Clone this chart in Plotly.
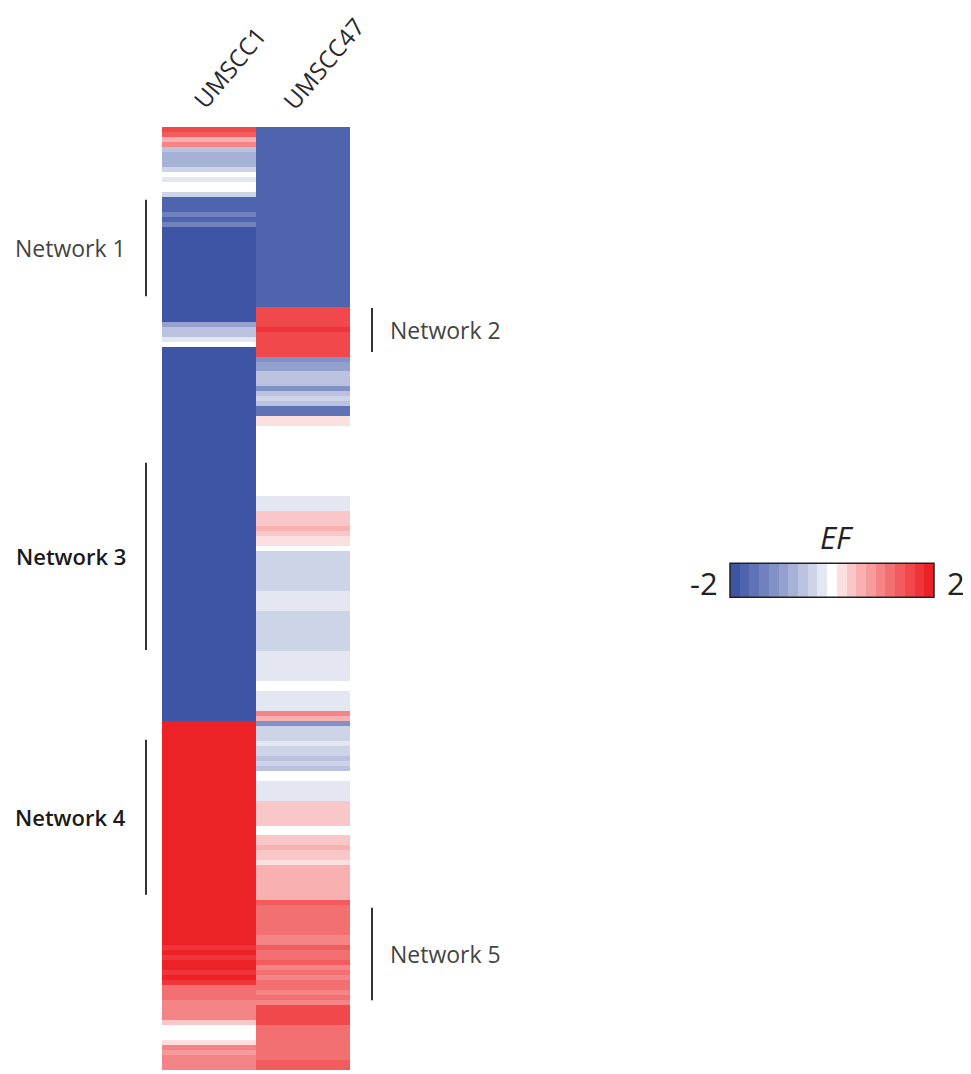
import plotly.graph_objects as go

# ---------------- data ----------------
samples = ["UMSCC1", "UMSCC47"]

umscc1 = [
    1.5, 1.3, 0.5, 0.9, -0.6, -0.8, -0.85, -0.8, -0.4, 0.0,
    -0.2, 0.05, 0.0, -0.3, -1.8, -1.8, -1.8, -1.4, -1.7, -1.4,
    -1.9, -1.85, -1.9, -1.9, -1.85, -1.9, -1.9, -1.9, -1.85, -1.9,
    -1.9, -1.9, -1.85, -1.9, -1.9, -1.9, -1.9, -1.85, -1.9,
    -0.9, -0.6, -0.5, -0.1, -0.05,
    -1.9, -1.9, -1.9, -1.9, -1.9, -1.9, -1.9, -1.9, -1.9, -1.9,
    -1.9, -1.9, -1.9, -1.9, -1.9, -1.9, -1.9, -1.9, -1.9, -1.9,
    -1.9, -1.9, -1.9, -1.9, -1.9, -1.9, -1.9, -1.9, -1.9, -1.9,
    -1.9, -1.9, -1.9, -1.9, -1.9, -1.9, -1.9, -1.9, -1.9, -1.9,
    -1.9, -1.9, -1.9, -1.9, -1.9, -1.9, -1.9, -1.9, -1.9, -1.9,
    -1.9, -1.9, -1.9, -1.9, -1.9, -1.9, -1.9, -1.9, -1.9, -1.9,
    -1.9, -1.9, -1.9, -1.9, -1.9, -1.9, -1.9, -1.9, -1.9, -1.9,
    -1.9, -1.9, -1.9, -1.9, -1.9,
    1.9, 1.9, 1.9, 1.9, 1.9, 1.9, 1.9, 1.9, 1.9, 1.9,
    1.9, 1.9, 1.9, 1.9, 1.9, 1.9, 1.9, 1.9, 1.9, 1.9,
    1.9, 1.9, 1.9, 1.9, 1.9, 1.9, 1.9, 1.9, 1.9, 1.9,
    1.9, 1.9, 1.9, 1.9, 1.9, 1.9, 1.9, 1.9, 1.9, 1.9,
    1.9, 1.9, 1.9, 1.9, 1.9, 1.75, 1.9, 1.75, 1.9, 1.9,
    1.75, 1.9, 1.75,
    1.2, 1.2, 1.1, 1.0, 1.0, 1.0, 0.9, 0.4,
    0.05, 0.0, 0.0, 0.1, 0.9, 0.85, 0.9, 1.0, 0.95,
]

umscc47 = [
    -1.7, -1.7, -1.65, -1.7, -1.7, -1.7, -1.65, -1.7, -1.7, -1.7,
    -1.7, -1.65, -1.7, -1.7, -1.7, -1.7, -1.65, -1.7, -1.7, -1.7,
    -1.7, -1.7, -1.65, -1.7, -1.7, -1.7, -1.7, -1.65, -1.7, -1.7,
    -1.7, -1.7, -1.7, -1.65, -1.7, -1.7,
    1.5, 1.5, 1.5, 1.6, 1.7, 1.6, 1.5, 1.5, 1.5, 1.55,
    -1.2, -0.9, -0.9, -0.6, -0.55, -0.6, -1.2, -0.5, -0.45, -0.5,
    -1.5, -1.5, 0.1, 0.12, 0.05,
    0.03, 0.02, 0.02, 0.0, 0.02, 0.03, 0.02, 0.0, 0.02, 0.02, 0.03,
    0.0, 0.0, -0.15, -0.15, -0.15,
    0.3, 0.3, 0.35, 0.5, 0.45, 0.25, 0.25, 0.0,
    -0.35, -0.35, -0.4, -0.35, -0.35, -0.4, -0.35, -0.35,
    -0.25, -0.25, -0.15, -0.15,
    -0.4, -0.45, -0.4, -0.4, -0.45, -0.4, -0.4, -0.45,
    -0.1, -0.1, -0.15, -0.1, -0.1, -0.15,
    0.0, 0.0, -0.2, -0.2, -0.25, -0.2,
    1.0, 0.6, -1.1, -0.4, -0.4, -0.35, -0.2,
    -0.45, -0.45, -0.5, -0.45, -0.6,
    0.0, 0.0, -0.15, -0.15, -0.25, -0.25,
    0.3, 0.3, 0.3, 0.3, 0.35, 0.0, 0.0,
    0.45, 0.45, 0.5, 0.45, 0.45, 0.15,
    0.55, 0.55, 0.6, 0.55, 0.55, 0.6, 0.55,
    1.4, 1.1, 1.1, 1.1, 1.15, 1.1, 1.1, 1.0, 1.0,
    1.4, 1.1, 1.1, 1.4,
    1.0, 1.1, 1.0, 1.1, 1.05, 1.0, 1.1, 1.0,
    1.5, 1.5, 1.45, 1.5,
    1.1, 1.1, 1.15, 1.1, 1.1, 1.15, 1.1, 1.3, 1.3,
]

networks = ["Network 1", "Network 2", "Network 3", "Network 4", "Network 5"]
network_start = [14.1, 35.8, 66.8, 122.3, 156.0]
network_end = [33.4, 44.6, 104.3, 153.4, 174.5]
network_side = ["left", "right", "left", "left", "right"]

zmin, zmax = -2, 2

# ---------------- styling ----------------
BLUE = (62, 85, 166)
RED = (237, 34, 38)
nbins = 21
GAMMA = 0.85


def mix(c, t):
    t = t ** GAMMA
    return "rgb(%d,%d,%d)" % tuple(round(255 + (ci - 255) * t) for ci in c)


colorscale = []
for k in range(nbins):
    t = (k - (nbins - 1) / 2) / ((nbins - 1) / 2)
    col = mix(BLUE, -t) if t < 0 else mix(RED, t)
    colorscale.append([k / nbins, col])
    colorscale.append([(k + 1) / nbins, col])

# page has an 8px body margin -> work in figure pixels = screen pixels - OFF
OFF = 8
W, H = 971 - OFF, 1074 - OFF


def px(x):
    return (x - OFF) / W


def py(y):
    return 1 - (y - OFF) / H


L, R, T, B = 162, 350, 127, 1070

nrows = len(umscc1)
z = [[a, b] for a, b in zip(umscc1, umscc47)]

fig = go.Figure(
    go.Heatmap(
        z=z,
        x=samples,
        y=list(range(nrows)),
        zmin=zmin,
        zmax=zmax,
        colorscale=colorscale,
        hoverinfo="skip",
        colorbar=dict(
            orientation="h",
            x=px(832),
            xanchor="center",
            y=py(580.5),
            yanchor="middle",
            len=224,
            lenmode="pixels",
            thickness=34,
            thicknessmode="pixels",
            xpad=10,
            ypad=0,
            outlinewidth=1.5,
            outlinecolor="#222",
            showticklabels=False,
            ticks="",
        ),
    )
)

fig.update_layout(
    width=W,
    height=H,
    margin=dict(l=0, r=0, t=0, b=0, autoexpand=False),
    paper_bgcolor="white",
    plot_bgcolor="white",
    font=dict(family="Open Sans", color="#333"),
    showlegend=False,
)
fig.update_xaxes(visible=False, range=[-0.5, 1.5], domain=[px(L), px(R)])
fig.update_yaxes(visible=False, range=[nrows - 0.5, -0.5], domain=[py(B), py(T)])

# column labels
label_centers = [(229, 67), (323, 63)]
for s, (cx, cy) in zip(samples, label_centers):
    fig.add_annotation(
        text=s, xref="paper", yref="paper",
        x=px(cx), y=py(cy),
        showarrow=False, textangle=-50,
        font=dict(size=24, color="#2a2a2a", family="Open Sans"),
        xanchor="center", yanchor="middle",
    )

# network brackets
for name, y0, y1, side in zip(networks, network_start, network_end, network_side):
    if side == "left":
        lx, tx, anchor = px(146), px(128), "right"
    else:
        lx, tx, anchor = px(372), px(388), "left"
    fig.add_shape(type="line", xref="paper", yref="y", x0=lx, x1=lx, y0=y0, y1=y1,
                  line=dict(color="#333", width=2))
    bold = name in ("Network 3", "Network 4")
    fig.add_annotation(
        text=name, xref="paper", yref="y", x=tx, y=(y0 + y1) / 2,
        showarrow=False, xanchor=anchor, yanchor="middle",
        font=dict(size=22 if bold else 23, color="#1a1a1a" if bold else "#444",
                  family="Open Sans", weight=600 if bold else 400),
    )

# colorbar labels
fig.add_annotation(text="<i>EF</i>", xref="paper", yref="paper",
                   x=px(837), y=py(537),
                   showarrow=False, xanchor="center", yanchor="middle",
                   font=dict(size=31, color="#222", family="Open Sans"))
fig.add_annotation(text="-2", xref="paper", yref="paper",
                   x=px(720), y=py(583),
                   showarrow=False, xanchor="right", yanchor="middle",
                   font=dict(size=31, color="#222", family="Open Sans"))
fig.add_annotation(text="2", xref="paper", yref="paper",
                   x=px(945), y=py(583),
                   showarrow=False, xanchor="left", yanchor="middle",
                   font=dict(size=31, color="#222", family="Open Sans"))

fig.write_html("out.html")
